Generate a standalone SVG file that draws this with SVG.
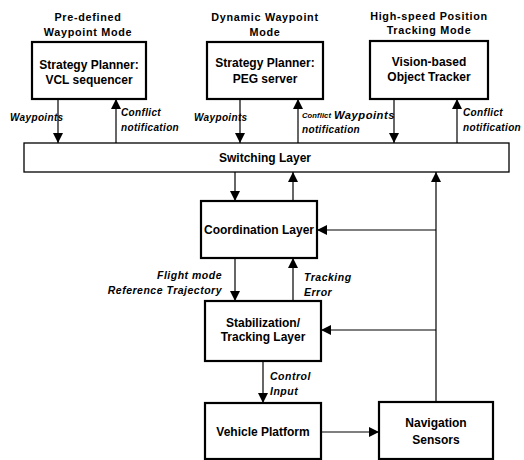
<svg xmlns="http://www.w3.org/2000/svg" width="524" height="460" viewBox="0 0 524 460">
<style>
.box{fill:#fff;stroke:#000;stroke-width:2.2}
.layer{fill:#fff;stroke:#000;stroke-width:1.3}
.t{font-family:"Liberation Sans",Arial,sans-serif;font-weight:bold;font-size:12px;text-anchor:middle;fill:#000}
.title{font-family:"Liberation Sans",Arial,sans-serif;font-weight:bold;font-size:10.8px;letter-spacing:0.7px;text-anchor:middle;fill:#000}
.lbl{font-family:"Liberation Sans",Arial,sans-serif;font-weight:bold;font-style:italic;font-size:10px;letter-spacing:0.35px;fill:#000}
.lbl2{font-family:"Liberation Sans",Arial,sans-serif;font-weight:bold;font-style:italic;font-size:10.5px;letter-spacing:0.5px;fill:#000}
.c{stroke:#000;stroke-width:1.2;fill:none;marker-end:url(#ah)}
</style>
<defs>
<marker id="ah" markerUnits="userSpaceOnUse" markerWidth="10" markerHeight="12" viewBox="0 0 10 12" refX="10" refY="5" orient="auto">
<path d="M0,0 L10,5 L0,10 Z" fill="#000"/>
</marker>
</defs>
<rect width="524" height="460" fill="#fff"/>

<g id="mode-predefined">
<text class="title" x="88" y="21">Pre-defined</text>
<text class="title" x="88" y="36">Waypoint Mode</text>
</g>
<g id="mode-dynamic">
<text class="title" x="265" y="21">Dynamic Waypoint</text>
<text class="title" x="265" y="36">Mode</text>
</g>
<g id="mode-highspeed">
<text class="title" x="429" y="20">High-speed Position</text>
<text class="title" x="429" y="34">Tracking Mode</text>
</g>

<g id="vcl">
<rect class="box" x="32" y="42" width="114" height="57"/>
<text class="t" x="89" y="69">Strategy Planner:</text>
<text class="t" x="89" y="84">VCL sequencer</text>
</g>
<g id="peg">
<rect class="box" x="207" y="42" width="116" height="57"/>
<text class="t" x="265" y="67">Strategy Planner:</text>
<text class="t" x="265" y="83">PEG server</text>
</g>
<g id="vision">
<rect class="box" x="370" y="41" width="118" height="58"/>
<text class="t" x="429" y="66">Vision-based</text>
<text class="t" x="429" y="81">Object Tracker</text>
</g>

<g id="switching">
<rect class="layer" x="24" y="143" width="485" height="29"/>
<text class="t" x="265" y="162">Switching Layer</text>
</g>

<g id="coordination">
<rect class="box" x="201" y="201" width="116" height="57"/>
<text class="t" x="259" y="234">Coordination Layer</text>
</g>

<g id="stabilization">
<rect class="box" x="205" y="301" width="116" height="60"/>
<text class="t" x="263" y="327">Stabilization/</text>
<text class="t" x="263" y="341">Tracking Layer</text>
</g>

<g id="vehicle">
<rect class="box" x="205" y="403" width="116" height="56"/>
<text class="t" x="263" y="436">Vehicle Platform</text>
</g>

<g id="navigation">
<rect class="box" x="379" y="402" width="114" height="57"/>
<text class="t" x="436" y="427">Navigation</text>
<text class="t" x="436" y="444">Sensors</text>
</g>

<g id="connectors">
<line class="c" x1="58" y1="99" x2="58" y2="143"/>
<line class="c" x1="116" y1="143" x2="116" y2="99"/>
<line class="c" x1="240" y1="99" x2="240" y2="143"/>
<line class="c" x1="298" y1="143" x2="298" y2="99"/>
<line class="c" x1="394" y1="99" x2="394" y2="143"/>
<line class="c" x1="457" y1="143" x2="457" y2="99"/>
<line class="c" x1="235" y1="172" x2="235" y2="201"/>
<line class="c" x1="293" y1="201" x2="293" y2="172"/>
<line class="c" x1="235" y1="258" x2="235" y2="301"/>
<line class="c" x1="293" y1="301" x2="293" y2="258"/>
<line class="c" x1="263" y1="361" x2="263" y2="403"/>
<line class="c" x1="321" y1="432" x2="379" y2="432"/>
<line class="c" x1="436" y1="402" x2="436" y2="172"/>
<line class="c" x1="436" y1="230" x2="317" y2="230"/>
<line class="c" x1="436" y1="330" x2="321" y2="330"/>

<text class="lbl" x="10" y="121">Waypoints</text>
<text class="lbl" x="121" y="116">Conflict</text>
<text class="lbl" x="121" y="131">notification</text>
<text class="lbl" x="194" y="121">Waypoints</text>
<text class="lbl" x="302" y="118" style="font-size:7.6px;letter-spacing:0.1px">Conflict</text>
<text class="lbl" x="334" y="119" style="font-size:11.2px;letter-spacing:0.5px">Waypoints</text>
<text class="lbl" x="302" y="133">notification</text>
<text class="lbl" x="463" y="116">Conflict</text>
<text class="lbl" x="463" y="131">notification</text>
<text class="lbl2" x="222" y="279" text-anchor="end">Flight mode</text>
<text class="lbl2" x="222" y="294" text-anchor="end">Reference Trajectory</text>
<text class="lbl2" x="304" y="281">Tracking</text>
<text class="lbl2" x="304" y="296">Error</text>
<text class="lbl2" x="270" y="380">Control</text>
<text class="lbl2" x="270" y="395">Input</text>
</g>
</svg>
